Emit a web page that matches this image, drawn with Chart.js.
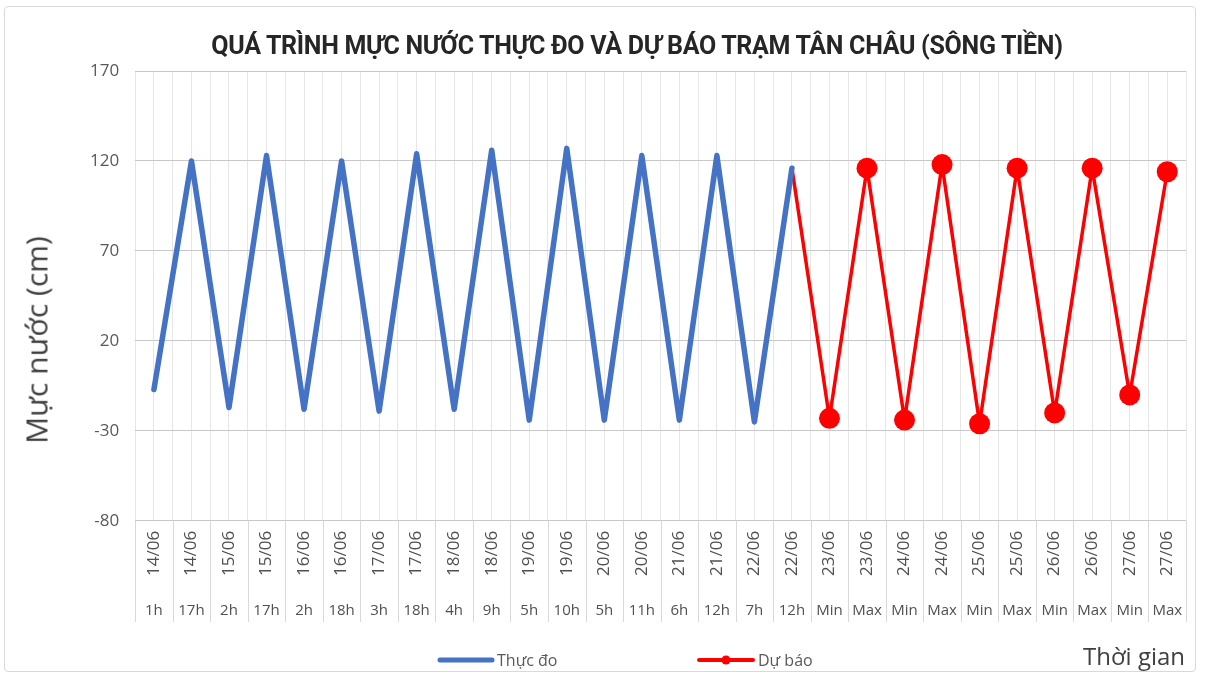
<!DOCTYPE html>
<html>
<head>
<meta charset="utf-8">
<script src="https://cdn.jsdelivr.net/npm/chart.js@4.4.1/dist/chart.umd.min.js"></script>
<style>
  html, body { margin: 0; padding: 0; background: #ffffff; }
  #wrap { position: relative; width: 1206px; height: 677px; overflow: hidden; }
  #frame { position: absolute; left: 4px; top: 6px; width: 1192px; height: 666px; border: 1px solid #d9d9d9; border-radius: 4px; box-sizing: border-box; }
  #chartBox { position: absolute; left: 0; top: 0; width: 1206px; height: 677px; }
  #title { position: absolute; left: 0; width: 1274px; top: 31px; text-align: center; font-family: Roboto, sans-serif; font-weight: bold; font-size: 25px; color: #262626; white-space: nowrap; letter-spacing: -0.3px; }
  #yTitle { position: absolute; left: 36px; top: 340px; transform: translate(-50%, -50%) rotate(-90deg); font-family: "Open Sans", sans-serif; font-size: 30px; color: #404040; white-space: nowrap; }
  .leg { position: absolute; top: 648px; font-family: "Open Sans", sans-serif; font-size: 16px; color: #595959; display: flex; align-items: center; height: 24px; }
  .leg canvas { margin-right: 2px; }
  #xTitle { position: absolute; left: 1083px; top: 639px; font-family: "Open Sans", sans-serif; font-size: 24px; color: #404040; }
</style>
</head>
<body>
<div id="wrap">
  <div id="frame"></div>
  <div id="chartBox"><canvas id="c"></canvas></div>
  <div id="title"></div>
  <div id="yTitle"></div>
  <div class="leg" style="left:437px"><canvas id="lg1" width="58" height="10"></canvas><span id="lgt1"></span></div>
  <div class="leg" style="left:696px"><canvas id="lg2" width="60" height="10"></canvas><span id="lgt2"></span></div>
  <div id="xTitle"></div>
</div>
<script>
// ---- data ----
const chartTitle = 'QUÁ TRÌNH MỰC NƯỚC THỰC ĐO VÀ DỰ BÁO TRẠM TÂN CHÂU (SÔNG TIỀN)';
const yAxisTitle = 'Mực nước (cm)';
const xAxisTitle = 'Thời gian';
const seriesNames = ['Thực đo', 'Dự báo'];
const dateLabels = ['14/06','14/06','15/06','15/06','16/06','16/06','17/06','17/06','18/06','18/06',
  '19/06','19/06','20/06','20/06','21/06','21/06','22/06','22/06',
  '23/06','23/06','24/06','24/06','25/06','25/06','26/06','26/06','27/06','27/06'];
const hourLabels = ['1h','17h','2h','17h','2h','18h','3h','18h','4h','9h',
  '5h','10h','5h','11h','6h','12h','7h','12h',
  'Min','Max','Min','Max','Min','Max','Min','Max','Min','Max'];
const observed = [-7,120,-17,123,-18,120,-19,124,-18,126,-24,127,-24,123,-24,123,-25,116,
  null,null,null,null,null,null,null,null,null,null];
const forecast = [null,null,null,null,null,null,null,null,null,null,null,null,null,null,null,null,null,
  116,-23,116,-24,118,-26,116,-20,116,-10,114];
const yTicks = [-80,-30,20,70,120,170];

// ---- text & legend (HTML) ----
document.getElementById('title').textContent = chartTitle;
document.getElementById('yTitle').textContent = yAxisTitle;
document.getElementById('lgt1').textContent = seriesNames[0];
document.getElementById('lgt2').textContent = seriesNames[1];
document.getElementById('xTitle').textContent = xAxisTitle;
(function(){
  const a = document.getElementById('lg1').getContext('2d');
  a.strokeStyle = '#4472C4'; a.lineWidth = 5; a.lineCap = 'round';
  a.beginPath(); a.moveTo(3,5); a.lineTo(55,5); a.stroke();
  const b = document.getElementById('lg2').getContext('2d');
  b.strokeStyle = '#FF0000'; b.lineWidth = 4; b.lineCap = 'round';
  b.beginPath(); b.moveTo(3,5); b.lineTo(57,5); b.stroke();
  b.fillStyle = '#FF0000'; b.beginPath(); b.arc(30,5,4.5,0,Math.PI*2); b.fill();
})();

// separators in the category label area
const separatorPlugin = {
  id: 'separators',
  afterDraw(chart) {
    const x = chart.scales.x, x2 = chart.scales.x2;
    const ctx = chart.ctx;
    const n = dateLabels.length;
    const step = x.getPixelForValue(1) - x.getPixelForValue(0);
    const endY = x2.bottom - 14;
    ctx.save();
    ctx.strokeStyle = '#d9d9d9';
    ctx.lineWidth = 1;
    for (let i = 0; i <= n; i++) {
      const px = Math.round(x.getPixelForValue(i) - step / 2) + 0.5;
      ctx.beginPath();
      ctx.moveTo(px, chart.chartArea.bottom);
      ctx.lineTo(px, endY);
      ctx.stroke();
    }
    ctx.restore();
  }
};

new Chart(document.getElementById('c'), {
  type: 'line',
  data: {
    labels: hourLabels,
    datasets: [
      {
        label: seriesNames[0],
        data: observed,
        borderColor: '#4472C4',
        backgroundColor: '#4472C4',
        borderWidth: 5.5,
        pointRadius: 0,
        borderJoinStyle: 'round',
        borderCapStyle: 'round',
        spanGaps: false,
        xAxisID: 'x'
      },
      {
        label: seriesNames[1],
        data: forecast,
        borderColor: '#FF0000',
        backgroundColor: '#FF0000',
        borderWidth: 3.5,
        pointRadius: (c) => (c.dataIndex === 17 ? 0 : 10.5),
        pointHoverRadius: (c) => (c.dataIndex === 17 ? 0 : 10.5),
        pointBorderWidth: 0,
        borderJoinStyle: 'round',
        spanGaps: false,
        xAxisID: 'x'
      }
    ]
  },
  options: {
    responsive: true,
    maintainAspectRatio: false,
    animation: false,
    layout: { padding: { left: 74, right: 20, top: 71, bottom: 41 } },
    plugins: {
      legend: { display: false },
      tooltip: { enabled: false },
      title: { display: false }
    },
    scales: {
      x: {
        type: 'category',
        labels: dateLabels,
        offset: true,
        position: 'bottom',
        weight: 0,
        grid: { display: true, offset: false, color: '#e6e6e6', drawTicks: false, drawOnChartArea: true },
        border: { display: false },
        ticks: { autoSkip: false, minRotation: 90, maxRotation: 90, color: '#505050', font: { family: 'Open Sans', size: 17 }, padding: 10 }
      },
      x2: {
        type: 'category',
        labels: hourLabels,
        offset: true,
        position: 'bottom',
        weight: 1,
        grid: { display: true, offset: true, color: '#e6e6e6', drawTicks: false, drawOnChartArea: true },
        border: { display: false },
        ticks: { autoSkip: false, minRotation: 0, maxRotation: 0, color: '#505050', font: { family: 'Open Sans', size: 15 }, padding: 16 }
      },
      y: {
        min: -80,
        max: 170,
        afterBuildTicks: (s) => { s.ticks = yTicks.map(v => ({ value: v })); },
        grid: { color: '#c8c8c8', lineWidth: 1, drawTicks: false },
        border: { display: false },
        ticks: { color: '#595959', font: { family: 'Open Sans', size: 17 }, padding: 16 },
        title: { display: false }
      }
    }
  },
  plugins: [separatorPlugin]
});
</script>
</body>
</html>
